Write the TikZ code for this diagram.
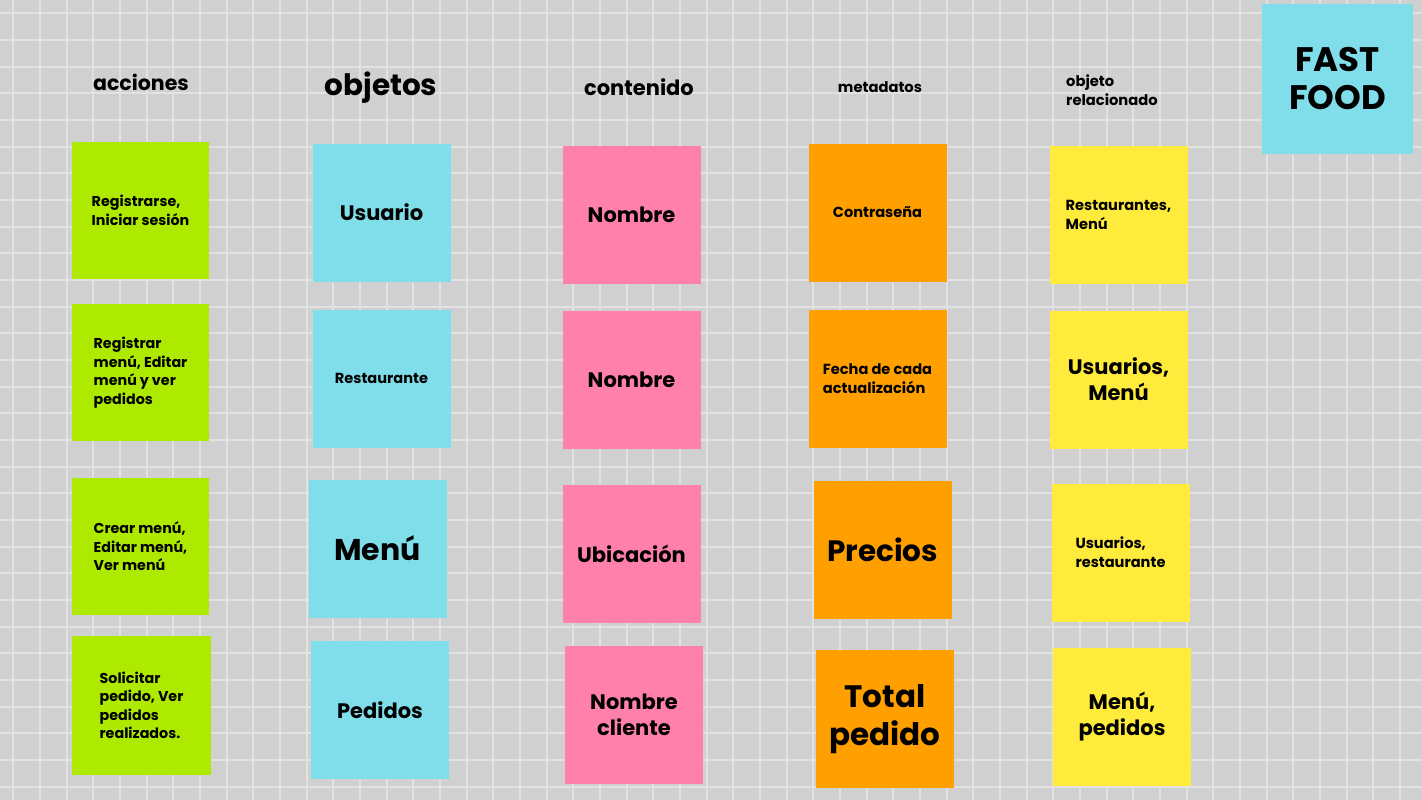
\documentclass[tikz,border=0pt]{standalone}
\usepackage{fontspec}
\setmainfont{Poppins}
\usepackage{tikz}
\usetikzlibrary{positioning}
\definecolor{fondo}{RGB}{208,208,208}
\definecolor{rejilla}{RGB}{226,226,226}
\definecolor{verde}{RGB}{174,234,0}
\definecolor{celeste}{RGB}{128,222,234}
\definecolor{rosa}{RGB}{255,128,171}
\definecolor{naranja}{RGB}{255,160,0}
\definecolor{amarillo}{RGB}{255,235,59}
\newcommand{\fs}[2]{\fontsize{#1}{#2}\selectfont\bfseries}

\begin{document}
\begin{tikzpicture}[x=1pt,y=-1pt,
nota/.style={minimum width=138pt,minimum height=138pt,inner sep=0pt,align=left,text=black},
accion/.style={nota,fill=verde},
objeto/.style={nota,fill=celeste},
contenido/.style={nota,fill=rosa},
meta/.style={nota,fill=naranja},
relacion/.style={nota,fill=amarillo},
titulo/.style={inner sep=0pt,align=left,text=black},
rejillalinea/.style={rejilla,line width=2pt}]
% fondo cuadriculado
\fill[fondo] (0,0) rectangle (1422,800);
\useasboundingbox (0,0) rectangle (1422,800);
\foreach \k in {0,...,53}{
  \draw[rejillalinea] (13.33+26.667*\k,0) -- (13.33+26.667*\k,800);
}
\foreach \k in {0,...,29}{
  \draw[rejillalinea] (0,13.33+26.667*\k) -- (1422,13.33+26.667*\k);
}
% encabezados
\node[titulo,font=\fs{20.5}{25}] (hacciones) at (141,82) {acciones};
\node[titulo,font=\fs{29.5}{35}] (hobjetos) at (381,88) {objetos};
\node[titulo,font=\fs{21}{26}] (hcontenido) at (639,87) {contenido};
\node[titulo,font=\fs{14.7}{19}] (hmetadatos) at (880,87) {metadatos};
\node[titulo,font=\fs{14.7}{19},anchor=west] (hrelacion) at (1066,90) {objeto\\relacionado};
\node[nota,fill=celeste,minimum width=151pt,minimum height=150pt,align=center,font=\fs{34}{38}] (fastfood) at (1337.5,79) {FAST\\FOOD};
% acciones
\node[accion,minimum width=137pt,minimum height=137pt,font=\fs{14.3}{18.5}] (a1) at (140.5,210.5) {Registrarse,\\Iniciar sesión};
\node[accion,minimum width=137pt,minimum height=137pt,font=\fs{14.3}{18.5}] (a2) at (140.5,372.5) {Registrar\\menú, Editar\\menú y ver\\pedidos};
\node[accion,minimum width=137pt,minimum height=137pt,font=\fs{14.3}{18.5}] (a3) at (140.5,546.5) {Crear menú,\\Editar menú,\\Ver menú};
\node[accion,minimum width=139pt,minimum height=139pt,font=\fs{14.3}{18.5}] (a4) at (141.5,705.5) {Solicitar\\pedido, Ver\\pedidos\\realizados.};
% objetos
\node[objeto,font=\fs{21}{26}] (o1) at (381.5,212.5) {Usuario};
\node[objeto,font=\fs{14.6}{18}] (o2) at (381.5,378.5) {Restaurante};
\node[objeto,font=\fs{30}{36}] (o3) at (377.5,548.5) {Menú};
\node[objeto,font=\fs{21}{26}] (o4) at (380,710) {Pedidos};
% contenido
\node[contenido,font=\fs{21}{26}] (c1) at (631.5,214.5) {Nombre};
\node[contenido,font=\fs{21}{26}] (c2) at (631.5,379.5) {Nombre};
\node[contenido,font=\fs{21}{26}] (c3) at (631.5,553.5) {Ubicación};
\node[contenido,align=center,font=\fs{21}{26}] (c4) at (634,715) {Nombre\\cliente};
% metadatos
\node[meta,font=\fs{14.6}{18}] (m1) at (877.5,212.5) {Contraseña};
\node[meta,font=\fs{14.6}{19}] (m2) at (877.5,378.5) {Fecha de cada\\actualización};
\node[meta,font=\fs{29.5}{34}] (m3) at (882.5,549.5) {Precios};
\node[meta,align=center,font=\fs{31}{38}] (m4) at (885,719) {Total\\pedido};
% objeto relacionado
\node[relacion,font=\fs{14.6}{19}] (r1) at (1118.5,214.5) {Restaurantes,\\Menú};
\node[relacion,align=center,font=\fs{21}{26}] (r2) at (1118.5,379.5) {Usuarios,\\Menú};
\node[relacion,font=\fs{14.6}{19}] (r3) at (1120.5,552.5) {Usuarios,\\restaurante};
\node[relacion,align=center,font=\fs{21}{26}] (r4) at (1122,717) {Menú,\\pedidos};
\end{tikzpicture}
\end{document}
